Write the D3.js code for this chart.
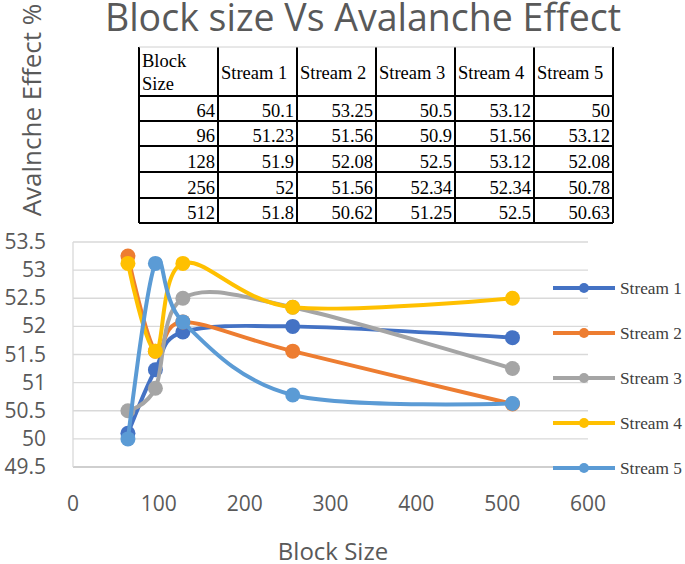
<!DOCTYPE html>
<html>
<head>
<meta charset="utf-8">
<script src="https://cdn.jsdelivr.net/npm/d3@7"></script>
<style>
  body { margin: 0; background: #fff; }
  svg { display: block; }
  .serif { font-family: "Liberation Serif", "Times New Roman", Times, serif; }
</style>
</head>
<body>
<svg width="685" height="564"></svg>
<script>
const blockSizes = [64, 96, 128, 256, 512];
const seriesNames = ["Stream 1", "Stream 2", "Stream 3", "Stream 4", "Stream 5"];
const stream1 = [50.1, 51.23, 51.9, 52, 51.8];
const stream2 = [53.25, 51.56, 52.08, 51.56, 50.62];
const stream3 = [50.5, 50.9, 52.5, 52.34, 51.25];
const stream4 = [53.12, 51.56, 53.12, 52.34, 52.5];
const stream5 = [50, 53.12, 52.08, 50.78, 50.63];
const tableLabels = [["50.1", "53.25", "50.5", "53.12", "50"],
  ["51.23", "51.56", "50.9", "51.56", "53.12"],
  ["51.9", "52.08", "52.5", "53.12", "52.08"],
  ["52", "51.56", "52.34", "52.34", "50.78"],
  ["51.8", "50.62", "51.25", "52.5", "50.63"]];
const xTicks = [0, 100, 200, 300, 400, 500, 600];
const yTicks = [49.5, 50, 50.5, 51, 51.5, 52, 52.5, 53, 53.5];
const colors = ["#4472C4", "#ED7D31", "#A5A5A5", "#FFC000", "#5B9BD5"];

const allSeries = [stream1, stream2, stream3, stream4, stream5];

const svg = d3.select("svg"),
  sans = "'Open Sans', sans-serif",
  x = d3.scaleLinear().domain([0, 600]).range([73, 588]),
  y = d3.scaleLinear().domain([49.5, 53.5]).range([467, 242]);

// title
svg.append("text")
  .attr("x", 363)
  .attr("y", 31)
  .attr("text-anchor", "middle")
  .attr("font-family", sans)
  .attr("font-size", 37.5)
  .attr("fill", "#595959")
  .text("Block size Vs Avalanche Effect");

// y title
svg.append("text")
  .attr("transform", "translate(41,110) rotate(-90)")
  .attr("text-anchor", "middle")
  .attr("font-family", sans)
  .attr("font-size", 26)
  .attr("fill", "#595959")
  .text("Avalnche Effect %");

// x title
svg.append("text")
  .attr("x", 333)
  .attr("y", 560)
  .attr("text-anchor", "middle")
  .attr("font-family", sans)
  .attr("font-size", 24)
  .attr("fill", "#595959")
  .text("Block Size");

// gridlines
svg.append("g")
  .selectAll("line")
  .data(yTicks.slice(1))
  .enter()
  .append("line")
  .attr("x1", x(0))
  .attr("x2", x(600))
  .attr("y1", d => y(d))
  .attr("y2", d => y(d))
  .attr("stroke", "#d9d9d9")
  .attr("stroke-width", 1.3);

svg.append("line")
  .attr("x1", x(0)).attr("x2", x(600))
  .attr("y1", y(49.5)).attr("y2", y(49.5))
  .attr("stroke", "#bfbfbf").attr("stroke-width", 1.3);
svg.append("line")
  .attr("x1", x(0)).attr("x2", x(0))
  .attr("y1", y(49.5)).attr("y2", y(53.5))
  .attr("stroke", "#d9d9d9").attr("stroke-width", 1.3);

// tick labels
svg.append("g")
  .selectAll("text")
  .data(yTicks)
  .enter()
  .append("text")
  .attr("x", 46)
  .attr("y", d => y(d) + 7)
  .attr("text-anchor", "end")
  .attr("font-family", sans)
  .attr("font-size", 21)
  .attr("fill", "#595959")
  .text(d => d);

svg.append("g")
  .selectAll("text")
  .data(xTicks)
  .enter()
  .append("text")
  .attr("x", d => x(d))
  .attr("y", 511)
  .attr("text-anchor", "middle")
  .attr("font-family", sans)
  .attr("font-size", 21)
  .attr("fill", "#595959")
  .text(d => d);

// lines and markers
const line = d3.line()
  .x((d, i) => x(blockSizes[i]))
  .y(d => y(d))
  .curve(d3.curveCardinal.tension(0));

const series = svg.append("g")
  .selectAll("g")
  .data(allSeries)
  .enter()
  .append("g");

series.append("path")
  .attr("d", d => line(d))
  .attr("fill", "none")
  .attr("stroke", (d, i) => colors[i])
  .attr("stroke-width", 4)
  .attr("stroke-linecap", "round");

series.each(function (vals, si) {
  d3.select(this)
    .selectAll("circle")
    .data(vals)
    .enter()
    .append("circle")
    .attr("cx", (d, i) => x(blockSizes[i]))
    .attr("cy", d => y(d))
    .attr("r", 7.5)
    .attr("fill", colors[si]);
});

// legend
const legend = svg.append("g")
  .selectAll("g")
  .data(seriesNames)
  .enter()
  .append("g")
  .attr("transform", (d, i) => `translate(0, ${288 + i * 45})`);

legend.append("line")
  .attr("x1", 553).attr("x2", 615)
  .attr("stroke", (d, i) => colors[i])
  .attr("stroke-width", 4);
legend.append("circle")
  .attr("cx", 584)
  .attr("r", 5)
  .attr("fill", (d, i) => colors[i]);
legend.append("text")
  .attr("class", "serif")
  .attr("x", 620)
  .attr("y", 5.5)
  .attr("font-size", 17.3)
  .attr("fill", "#404040")
  .text(d => d);

// data table
const colEdges = [139, 218, 297, 376, 455, 534, 613];
const rowEdges = [47, 96, 121, 146, 172, 198, 223];
const table = svg.append("g").attr("class", "serif").attr("font-size", 18.5).attr("fill", "#000");

table.append("rect")
  .attr("x", colEdges[0]).attr("y", rowEdges[0])
  .attr("width", colEdges[6] - colEdges[0])
  .attr("height", rowEdges[6] - rowEdges[0])
  .attr("fill", "#fff");

table.selectAll(".vline")
  .data(colEdges)
  .enter()
  .append("line")
  .attr("x1", d => d).attr("x2", d => d)
  .attr("y1", rowEdges[0]).attr("y2", rowEdges[6])
  .attr("stroke", "#000").attr("stroke-width", 2);

table.selectAll(".hline")
  .data(rowEdges)
  .enter()
  .append("line")
  .attr("x1", colEdges[0]).attr("x2", colEdges[6])
  .attr("y1", d => d).attr("y2", d => d)
  .attr("stroke", (d, i) => (i === 0 ? "#d0d0d0" : "#000"))
  .attr("stroke-width", (d, i) => (i === 0 ? 1 : 2));

table.append("text").attr("x", colEdges[0] + 3).attr("y", 67).text("Block");
table.append("text").attr("x", colEdges[0] + 3).attr("y", 90).text("Size");

table.selectAll(".head")
  .data(seriesNames)
  .enter()
  .append("text")
  .attr("x", (d, i) => colEdges[i + 1] + 3)
  .attr("y", 79)
  .text(d => d);

blockSizes.forEach((b, r) => {
  const yy = rowEdges[r + 2] - 4.5;
  table.append("text")
    .attr("x", colEdges[1] - 3)
    .attr("y", yy)
    .attr("text-anchor", "end")
    .text(b);
  table.selectAll(null)
    .data(tableLabels[r])
    .enter()
    .append("text")
    .attr("x", (d, i) => colEdges[i + 2] - 3)
    .attr("y", yy)
    .attr("text-anchor", "end")
    .text(d => d);
});
</script>
</body>
</html>
